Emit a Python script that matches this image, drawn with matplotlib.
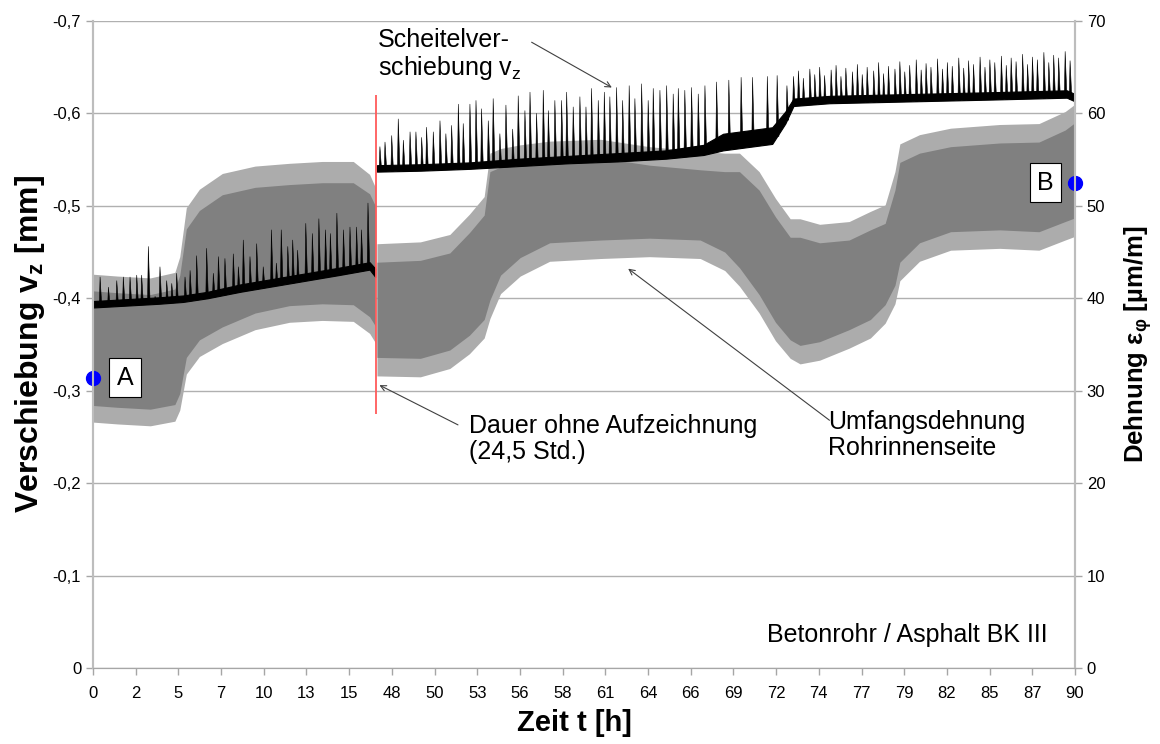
import numpy as np
import matplotlib
matplotlib.use("Agg")
import matplotlib.pyplot as plt
from matplotlib.collections import PolyCollection

plt.rcParams['font.family'] = ['Liberation Sans', 'DejaVu Sans']
plt.rcParams['mathtext.fontset'] = 'custom'
plt.rcParams['mathtext.rm'] = 'Liberation Sans'
plt.rcParams['mathtext.it'] = 'Liberation Sans:italic'
plt.rcParams['mathtext.bf'] = 'Liberation Sans:bold'

# x axis: time without the 24,5 h gap (axis units), labels = real hours
xlabels = ["0", "2", "5", "7", "10", "13", "15", "48", "50", "53", "56", "58",
           "61", "64", "66", "69", "72", "74", "77", "79", "82", "85", "87", "90"]
gap_t = 17.3
gap_range = [-0.275, -0.62]

# Umfangsdehnung (grey, um/m) - dense band and outer peaks
g1_t = [0, 1.5, 3.5, 5.0, 5.3, 5.7, 6.5, 7.9, 9.9, 12.0, 14.0, 15.9, 16.9, 17.25]
g1_hi = [40.8, 40.6, 40.4, 41.0, 42.5, 47.5, 49.5, 51.2, 52.0, 52.3, 52.5, 52.5, 51.3, 50.0]
g1_lo = [28.4, 28.2, 28.0, 28.5, 29.7, 33.6, 35.5, 36.9, 38.4, 39.2, 39.4, 39.3, 38.0, 37.0]
g1_pk_hi = [42.6, 42.4, 42.2, 42.8, 44.5, 49.8, 51.8, 53.5, 54.3, 54.6, 54.8, 54.8, 53.4, 52.0]
g1_pk_lo = [26.6, 26.4, 26.2, 26.7, 27.9, 31.8, 33.7, 35.1, 36.6, 37.4, 37.6, 37.5, 36.2, 35.2]

g2_t = [17.35, 20.0, 21.8, 23.0, 23.9, 24.25, 24.9, 26.1, 27.9, 31.0, 34.0, 37.1, 38.6, 39.5, 40.7,
        41.7, 42.6, 43.2, 44.4, 46.2, 47.5, 48.4, 49.0, 49.3, 50.5, 52.4, 55.4, 57.8, 59.4, 60.0]
g2_hi = [43.9, 44.1, 44.9, 47.1, 49.0, 53.7, 54.2, 54.6, 55.0, 55.2, 54.4, 53.9, 53.7, 53.7, 51.7,
         48.8, 46.6, 46.6, 46.0, 46.3, 47.4, 48.1, 51.7, 54.7, 55.7, 56.4, 56.8, 56.9, 58.2, 59.0]
g2_lo = [33.6, 33.5, 34.4, 36.0, 37.7, 39.8, 42.5, 44.4, 46.0, 46.3, 46.5, 46.3, 45.0, 43.3, 40.4,
         37.4, 35.5, 34.9, 35.3, 36.6, 37.7, 39.3, 41.4, 43.9, 46.0, 47.2, 47.4, 47.2, 48.3, 48.7]
g2_pk_hi = [45.9, 46.1, 46.9, 49.1, 51.0, 55.7, 56.2, 56.6, 57.0, 57.2, 56.4, 55.9, 55.7, 55.7, 53.7,
            50.8, 48.6, 48.6, 48.0, 48.3, 49.4, 50.1, 53.7, 56.7, 57.7, 58.4, 58.8, 58.9, 60.2, 61.0]
g2_pk_lo = [31.6, 31.5, 32.4, 34.0, 35.7, 37.8, 40.5, 42.4, 44.0, 44.3, 44.5, 44.3, 43.0, 41.3, 38.4,
            35.4, 33.5, 32.9, 33.3, 34.6, 35.7, 37.3, 39.4, 41.9, 44.0, 45.2, 45.4, 45.2, 46.3, 46.7]

# Scheitelverschiebung (black, mm) - base band and peaks
b1_t = [0, 2, 4, 5.5, 7, 9, 11, 13, 15, 16.9, 17.25]
b1_lo = [-0.390, -0.392, -0.394, -0.396, -0.400, -0.407, -0.413, -0.419, -0.425, -0.431, -0.423]
b1_hi = [-0.397, -0.399, -0.401, -0.403, -0.407, -0.415, -0.421, -0.427, -0.433, -0.439, -0.432]
b2_t = [17.35, 20, 23, 26, 29, 32, 35, 37.3, 38.5, 41.5, 42.3, 42.8, 45, 50, 55, 59.5, 60]
b2_lo = [-0.537, -0.538, -0.540, -0.543, -0.546, -0.548, -0.551, -0.555, -0.560, -0.567, -0.589,
         -0.608, -0.611, -0.613, -0.615, -0.617, -0.613]
b2_hi = [-0.544, -0.545, -0.547, -0.551, -0.554, -0.557, -0.560, -0.566, -0.578, -0.585, -0.602,
         -0.616, -0.619, -0.621, -0.623, -0.625, -0.621]

pk1_t = [0.43, 0.94, 1.45, 1.85, 2.26, 2.67, 2.97, 3.38, 3.79, 4.09, 4.50, 4.81, 5.11, 5.62, 5.93,
         6.33, 6.94, 7.35, 7.66, 8.06, 8.57, 8.88, 9.18, 9.59, 10.0, 10.4, 10.9, 11.2, 11.5, 11.9,
         12.2, 12.5, 13.0, 13.4, 13.8, 14.2, 14.5, 14.9, 15.3, 15.7, 16.1, 16.4, 16.8]
pk1_v = [-0.423, -0.412, -0.419, -0.423, -0.423, -0.425, -0.425, -0.456, -0.402, -0.434, -0.419,
         -0.416, -0.427, -0.423, -0.430, -0.446, -0.454, -0.427, -0.445, -0.443, -0.448, -0.434,
         -0.463, -0.445, -0.459, -0.434, -0.474, -0.438, -0.474, -0.456, -0.463, -0.452, -0.481,
         -0.470, -0.486, -0.474, -0.470, -0.492, -0.474, -0.477, -0.477, -0.474, -0.503]
pk2_t = [17.53, 17.84, 18.25, 18.65, 18.96, 19.37, 19.73, 20.08, 20.38, 20.79, 21.20, 21.56, 21.91,
         22.32, 22.62, 23.03, 23.40, 23.74, 24.15, 24.45, 24.86, 25.23, 25.64, 25.98, 26.39, 26.70,
         27.10, 27.51, 27.82, 28.22, 28.63, 28.94, 29.34, 29.75, 30.12, 30.46, 30.87, 31.24, 31.58,
         31.99, 32.36, 32.76, 33.11, 33.52, 33.92, 34.23, 34.64, 35.05, 35.45, 35.76, 36.16, 36.57,
         36.98, 37.39, 38.10, 38.85, 39.60, 40.30, 41.20, 41.80, 42.40,
         42.8, 43.1, 43.4, 43.8, 44.1, 44.4, 44.7, 45.1, 45.4, 45.7, 46.0, 46.4, 46.7, 47.0, 47.3,
         47.7, 48.0, 48.3, 48.6, 49.0, 49.3, 49.6, 49.9, 50.3, 50.6, 50.9, 51.2, 51.6, 51.9, 52.2,
         52.5, 52.9, 53.2, 53.5, 53.8, 54.2, 54.5, 54.8, 55.1, 55.5, 55.8, 56.1, 56.4, 56.8, 57.1,
         57.4, 57.7, 58.1, 58.4, 58.7, 59.0, 59.4, 59.7]
pk2_v = [-0.564, -0.569, -0.576, -0.594, -0.571, -0.580, -0.580, -0.574, -0.585, -0.580, -0.592,
         -0.578, -0.587, -0.610, -0.589, -0.610, -0.614, -0.605, -0.592, -0.616, -0.578, -0.609,
         -0.583, -0.619, -0.603, -0.623, -0.600, -0.625, -0.603, -0.614, -0.614, -0.623, -0.607,
         -0.618, -0.607, -0.627, -0.614, -0.623, -0.618, -0.628, -0.614, -0.630, -0.616, -0.632,
         -0.614, -0.627, -0.625, -0.630, -0.621, -0.627, -0.625, -0.628, -0.621, -0.630, -0.634,
         -0.636, -0.639, -0.639, -0.640, -0.641, -0.630,
         -0.640, -0.646, -0.638, -0.648, -0.642, -0.650, -0.641, -0.647, -0.652, -0.640, -0.649,
         -0.645, -0.653, -0.642, -0.650, -0.646, -0.655, -0.643, -0.651, -0.648, -0.656, -0.645,
         -0.652, -0.658, -0.647, -0.654, -0.650, -0.659, -0.648, -0.655, -0.651, -0.660, -0.649,
         -0.657, -0.653, -0.661, -0.650, -0.658, -0.655, -0.662, -0.652, -0.660, -0.656, -0.664,
         -0.653, -0.661, -0.658, -0.666, -0.655, -0.663, -0.660, -0.667, -0.657]

point_a = (0, 31.4)
point_b = (60, 52.5)

fig = plt.figure(figsize=(11.6, 7.44), dpi=100)
ax = fig.add_axes([0.0802, 0.1022, 0.8465, 0.8696])
ax2 = ax.twinx()
ax.set_zorder(ax2.get_zorder() + 1)
ax.patch.set_visible(False)

# grey strain band
for t, lo, hi, plo, phi in [(g1_t, g1_lo, g1_hi, g1_pk_lo, g1_pk_hi),
                            (g2_t, g2_lo, g2_hi, g2_pk_lo, g2_pk_hi)]:
    ax2.fill_between(t, plo, phi, color='#acacac', lw=0)
    ax2.fill_between(t, lo, hi, color='#808080', lw=0)

# black displacement: noisy base band + sharp peaks
for t, lo, hi, pt, pv in [(b1_t, b1_lo, b1_hi, pk1_t, pk1_v), (b2_t, b2_lo, b2_hi, pk2_t, pk2_v)]:
    ax.fill_between(t, lo, hi, color='black', lw=0.8)
    base = np.interp(pt, t, np.array(lo))
    tris = [[(x - 0.05, b), (x, v), (x + 0.11, b)] for x, b, v in zip(pt, base, pv)]
    ax.add_collection(PolyCollection(tris, facecolor='black', edgecolor='black', lw=0.4))

ax.vlines(gap_t, gap_range[0], gap_range[1], color='#ff5a5a', lw=1.3)

ax2.plot(*point_a, 'o', color='#0000ff', ms=10, clip_on=False, zorder=10)
ax2.plot(*point_b, 'o', color='#0000ff', ms=10, clip_on=False, zorder=10)
box = dict(boxstyle='square,pad=0.3', fc='white', ec='black', lw=0.8)
ax2.text(1.95, 31.4, "A", fontsize=18, ha='center', va='center', bbox=box, zorder=11)
ax2.text(58.2, 52.5, "B", fontsize=18, ha='center', va='center', bbox=box, zorder=11)

arrow = dict(arrowstyle='->', color='#404040', lw=0.8, shrinkA=0, shrinkB=0)
ax.text(17.4, -0.692, "Scheitelver-\nschiebung v$_\\mathregular{z}$", fontsize=18, va='top',
        linespacing=1.1)
ax.annotate("", xy=(31.7, -0.628), xytext=(26.8, -0.677), arrowprops=arrow)
ax.text(23.0, -0.275, "Dauer ohne Aufzeichnung\n(24,5 Std.)", fontsize=18, va='top', linespacing=1.1)
ax.annotate("", xy=(17.5, -0.306), xytext=(22.3, -0.263), arrowprops=arrow)
ax.text(44.9, -0.279, "Umfangsdehnung\nRohrinnenseite", fontsize=18, va='top', linespacing=1.1)
ax.annotate("", xy=(32.7, -0.432), xytext=(45.0, -0.268), arrowprops=arrow)
ax.text(58.3, -0.036, "Betonrohr / Asphalt BK III", fontsize=18, ha='right', va='center')

ax.set_xlim(0, 60)
ax.set_ylim(0, -0.7)
ax2.set_ylim(0, 70)
ax.set_xticks(np.linspace(0, 60, len(xlabels)))
ax.set_xticklabels(xlabels)
yt = np.arange(0, -0.71, -0.1)
ax.set_yticks(yt)
ax.set_yticklabels(["0" if abs(v) < 1e-9 else f"{v:.1f}".replace(".", ",") for v in yt])
ax2.set_yticks(np.arange(0, 71, 10))

ax2.yaxis.grid(True, color='#b0b0b0', lw=1)
ax2.set_axisbelow(True)
for a in (ax, ax2):
    a.spines['top'].set_visible(False)
    a.spines['left'].set_color('#bdbdbd')
    a.spines['right'].set_color('#bdbdbd')
    a.spines['bottom'].set_color('#a6a6a6')
    a.spines['left'].set_linewidth(1.5)
    a.spines['right'].set_linewidth(1.5)
    a.tick_params(colors='#a6a6a6', labelcolor='black', labelsize=12, length=5, width=1)
ax.tick_params(axis='x', pad=8)

ax.set_xlabel("Zeit t [h]", fontsize=21, fontweight='bold')
ax.xaxis.set_label_coords(0.49, -0.064)
ax.set_ylabel("Verschiebung v$_\\mathregular{z}$ [mm]", fontsize=23, fontweight='bold', labelpad=4)
ax2.set_ylabel("Dehnung ε$_\\mathregular{φ}$ [µm/m]", fontsize=18.5, fontweight='bold', labelpad=12)

fig.savefig("out.png", dpi=100)
